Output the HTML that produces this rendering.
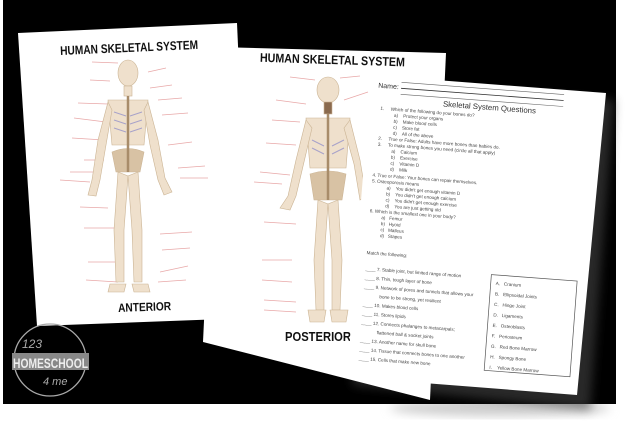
<!DOCTYPE html>
<html><head><meta charset="utf-8"><style>
html,body{margin:0;padding:0;background:#fff;}
svg{display:block;}
text{font-family:"Liberation Sans",sans-serif;}
</style></head><body>
<svg width="640" height="433" viewBox="0 0 640 433" xmlns="http://www.w3.org/2000/svg">
<defs>
<filter id="sh" x="-10%" y="-10%" width="130%" height="130%"><feGaussianBlur stdDeviation="5"/></filter>
</defs>
<rect x="0" y="0" width="640" height="433" fill="#fff"/>
<ellipse cx="500" cy="408" rx="110" ry="8" fill="#ccc" filter="url(#sh)"/>
<rect x="3" y="0" width="613" height="404" fill="#000"/>
<polygon points="378,85 614,100 590,410 352,385" fill="#444" filter="url(#sh)" opacity="0.6"/>

<!-- Page 1 -->
<polygon points="18,33 237,23 250,318 37,326" fill="#fff"/>
<text x="60" y="52" font-size="12.5" font-weight="bold" transform="rotate(-2.5 128 46)" textLength="138" lengthAdjust="spacingAndGlyphs" fill="#111">HUMAN SKELETAL SYSTEM</text>
<g stroke="#e8a8a8" stroke-width="0.7" fill="none">
<path d="M92,62 L118,63 M90,80 L110,81 M78,103 L108,104 M74,118 L106,122 M72,138 L104,140 M84,160 L104,160 M70,172 L96,172 M60,180 L90,182 M80,207 L108,208 M84,228 L115,228 M88,262 L120,262 M86,280 L118,282"/>
<path d="M148,72 L166,68 M150,88 L172,85 M158,100 L182,98 M162,115 L188,113 M168,145 L192,142 M178,168 L205,166 M180,178 L208,178 M160,234 L192,232 M162,250 L190,248 M160,272 L188,266 M158,282 L186,280"/>
</g>
<g fill="#efe0cc" stroke="#cbb494" stroke-width="0.6">
<ellipse cx="128" cy="73" rx="10" ry="13"/>
<rect x="124" y="86" width="8" height="10"/>
<path d="M108,100 L148,100 L144,145 L112,145 Z"/>
<path d="M112,152 Q128,145 144,152 L140,172 L116,172 Z" fill="#d8c2a4"/>
<path d="M108,102 L98,140 L92,180 L88,195 L96,196 L100,180 L106,145 L112,110Z"/>
<path d="M148,102 L158,140 L165,178 L172,192 L164,195 L158,180 L150,145 L144,110Z"/>
<path d="M118,172 L114,230 L116,282 L124,282 L124,230 L128,176Z"/>
<path d="M138,172 L142,230 L142,282 L134,282 L132,230 L128,176Z"/>
<path d="M110,284 L126,284 L124,292 L108,292Z"/>
<path d="M132,284 L148,284 L150,292 L134,292Z"/>
</g>
<g stroke="#8a88c8" stroke-width="1" opacity="0.7">
<path d="M114,112 L126,116 M114,120 L126,124 M114,128 L126,132 M130,116 L142,112 M130,124 L142,120 M130,132 L142,128"/>
</g>
<line x1="128" y1="96" x2="128" y2="172" stroke="#a88c6a" stroke-width="2.5"/>
<text x="118" y="311" font-size="12" font-weight="bold" textLength="53" lengthAdjust="spacingAndGlyphs" transform="rotate(-2 145 305)" fill="#111">ANTERIOR</text>

<!-- Page 2 -->
<polygon points="217,47 446,53 430,400 203,342" fill="#fff"/>
<text x="260" y="64" font-size="12.5" font-weight="bold" transform="rotate(1.8 330 58)" textLength="145" lengthAdjust="spacingAndGlyphs" fill="#111">HUMAN SKELETAL SYSTEM</text>
<g stroke="#e8a8a8" stroke-width="0.7" fill="none">
<path d="M290,77 L315,80 M276,100 L306,104 M272,120 L300,122 M266,143 L296,145 M260,172 L290,175 M254,182 L282,184 M264,222 L296,224 M262,260 L292,260 M262,280 L292,282 M264,300 L296,302 M264,310 L296,312 M340,78 L360,76 M344,100 L368,92"/>
</g>
<g fill="#efe0cc" stroke="#cbb494" stroke-width="0.6">
<ellipse cx="328" cy="90" rx="11" ry="13"/>
<rect x="324" y="102" width="8" height="12" fill="#8a6a4e"/>
<path d="M306,118 L350,118 L346,168 L310,168 Z"/>
<path d="M310,174 Q328,168 346,174 L342,200 L314,200 Z" fill="#d8c2a4"/>
<path d="M306,120 L296,160 L288,196 L280,208 L290,210 L296,196 L304,162 L312,128Z"/>
<path d="M350,120 L360,160 L366,196 L360,200 L354,164 L344,128Z"/>
<path d="M318,200 L314,260 L316,310 L324,310 L324,260 L328,204Z"/>
<path d="M338,200 L342,260 L340,310 L332,310 L332,260 L328,204Z"/>
<path d="M308,310 L326,310 L324,322 L310,322Z"/>
<path d="M330,310 L348,310 L346,322 L332,322Z"/>
</g>
<g stroke="#8a88c8" stroke-width="1" opacity="0.7">
<path d="M312,140 L324,146 M312,148 L324,154 M332,146 L344,140 M332,154 L344,148"/>
</g>
<line x1="328" y1="114" x2="328" y2="200" stroke="#a88c6a" stroke-width="2.5"/>
<text x="285" y="341" font-size="13" font-weight="bold" textLength="66" lengthAdjust="spacingAndGlyphs" fill="#111">POSTERIOR</text>

<!-- Page 3 -->
<polygon points="371,75 606,93 577,395 347,377" fill="#fff"/>
<g transform="rotate(4.3 371 75)" fill="#333">
<text x="379" y="87" font-size="7">Name:</text>
<line x1="402" y1="86" x2="565" y2="86" stroke="#333" stroke-width="0.8"/>
<line x1="402" y1="80" x2="565" y2="80" stroke="#666" stroke-width="0.6"/>
<line x1="402" y1="92" x2="565" y2="92" stroke="#666" stroke-width="0.6"/>
<text x="445" y="101" font-size="7.8">Skeletal System Questions</text>
<g font-size="4.6" fill="#444">
<text x="383" y="109">1.&#160;&#160;&#160;&#160;&#160;Which of the following do your bones do?</text>
<text x="397" y="115">a)&#160;&#160;&#160;&#160;Protect your organs</text>
<text x="397" y="121">b)&#160;&#160;&#160;&#160;Make blood cells</text>
<text x="397" y="127">c)&#160;&#160;&#160;&#160;Store fat</text>
<text x="397" y="133">d)&#160;&#160;&#160;&#160;All of the above</text>
<text x="383" y="139">2.&#160;&#160;&#160;&#160;&#160;True or False: Adults have more bones than babies do.</text>
<text x="383" y="145">3.&#160;&#160;&#160;&#160;&#160;To make strong bones you need (circle all that apply)</text>
<text x="397" y="151">a)&#160;&#160;&#160;&#160;Calcium</text>
<text x="397" y="157">b)&#160;&#160;&#160;&#160;Exercise</text>
<text x="397" y="163">c)&#160;&#160;&#160;&#160;Vitamin D</text>
<text x="397" y="169">d)&#160;&#160;&#160;&#160;Milk</text>
<text x="380" y="176">4. True or False: Your bones can repair themselves.</text>
<text x="380" y="182">5. Osteoporosis means</text>
<text x="395" y="188">a)&#160;&#160;&#160;&#160;You didn't get enough vitamin D</text>
<text x="395" y="194">b)&#160;&#160;&#160;&#160;You didn't get enough calcium</text>
<text x="395" y="200">c)&#160;&#160;&#160;&#160;You didn't get enough exercise</text>
<text x="395" y="206">d)&#160;&#160;&#160;&#160;You are just getting old</text>
<text x="380" y="212">6. Which is the smallest one in your body?</text>
<text x="392" y="218">a)&#160;&#160;&#160;Femur</text>
<text x="392" y="224">b)&#160;&#160;&#160;Hyoid</text>
<text x="392" y="230">c)&#160;&#160;&#160;Malleus</text>
<text x="392" y="236">d)&#160;&#160;&#160;Stapes</text>
<text x="380" y="254">Match the following:</text>
<text x="380" y="270">____ 7. Stable joint, but limited range of motion</text>
<text x="380" y="279">____ 8. Thin, tough layer of bone</text>
<text x="380" y="288">____ 9. Network of pores and tunnels that allows your</text>
<text x="396" y="297">bone to be strong, yet resilient</text>
<text x="380" y="306">____ 10. Makes blood cells</text>
<text x="380" y="315">____ 11. Stores lipids</text>
<text x="380" y="324">____ 12. Connects phalanges to metacarpals;</text>
<text x="396" y="333">flattened ball &amp; socket joints</text>
<text x="380" y="342">____ 13. Another name for skull bone</text>
<text x="380" y="351">____ 14. Tissue that connects bones to one another</text>
<text x="380" y="360">____ 15. Cells that make new bone</text>
<rect x="506" y="265" width="86" height="96" fill="none" stroke="#555" stroke-width="0.7"/>
<text x="511" y="275">A.&#160;&#160;&#160;Cranium</text>
<text x="511" y="285.5">B.&#160;&#160;&#160;Ellipsoidal Joints</text>
<text x="511" y="296">C.&#160;&#160;&#160;Hinge Joint</text>
<text x="511" y="306.5">D.&#160;&#160;&#160;Ligaments</text>
<text x="511" y="317">E.&#160;&#160;&#160;Osteoblasts</text>
<text x="511" y="327.5">F.&#160;&#160;&#160;Periosteum</text>
<text x="511" y="338">G.&#160;&#160;&#160;Red Bone Marrow</text>
<text x="511" y="348.5">H.&#160;&#160;&#160;Spongy Bone</text>
<text x="511" y="359">I.&#160;&#160;&#160;&#160;Yellow Bone Marrow</text>
</g>
</g>

<!-- logo -->
<circle cx="50" cy="360" r="36" fill="none" stroke="#aaa" stroke-width="1.3"/>
<text x="22" y="348" font-size="12" font-style="italic" fill="#aaa">123</text>
<rect x="12" y="353" width="77" height="17" fill="#888"/>
<text x="13" y="368" font-size="14" font-weight="bold" fill="#eee" textLength="75" lengthAdjust="spacingAndGlyphs">HOMESCHOOL</text>
<text x="43" y="385" font-size="11" font-style="italic" fill="#aaa">4 me</text>
</svg>
</body></html>
